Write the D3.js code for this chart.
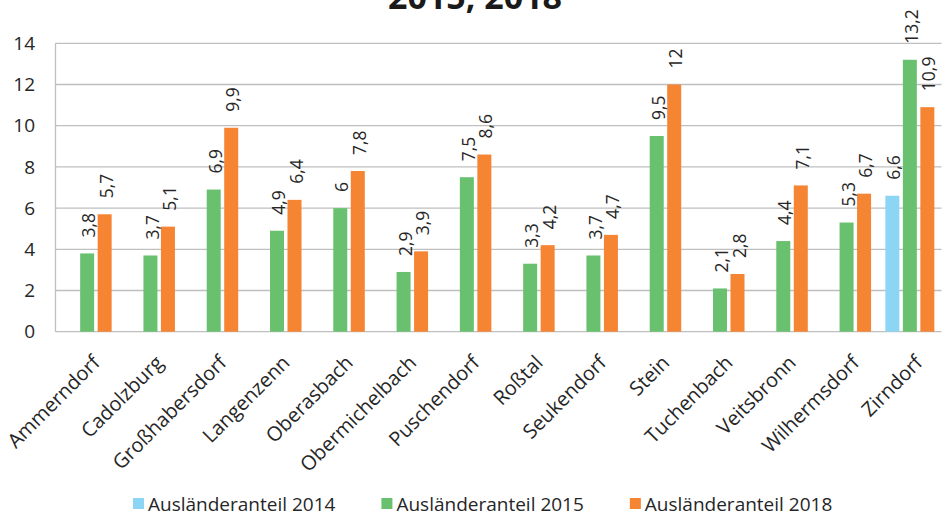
<!DOCTYPE html>
<html>
<head>
<meta charset="utf-8">
<script src="https://cdn.jsdelivr.net/npm/d3@7"></script>
<style>
  body { margin: 0; background: #fff; }
  text { font-family: "Open Sans", sans-serif; fill: #404040; }
</style>
</head>
<body>
<div id="chart"></div>
<script>
var width = 946,
    height = 517,
    margin = {top: 43.3, right: 4.5, bottom: 185.3, left: 55.5};

var categories = ["Ammerndorf", "Cadolzburg", "Großhabersdorf", "Langenzenn", "Oberasbach",
                  "Obermichelbach", "Puschendorf", "Roßtal", "Seukendorf", "Stein",
                  "Tuchenbach", "Veitsbronn", "Wilhermsdorf", "Zirndorf"];
var series = ["Ausländeranteil 2014", "Ausländeranteil 2015", "Ausländeranteil 2018"];
var colors = ["#8dd5f4", "#69c16f", "#f58433"];
var values2014 = [null, null, null, null, null, null, null, null, null, null, null, null, null, 6.6];
var values2015 = [3.8, 3.7, 6.9, 4.9, 6, 2.9, 7.5, 3.3, 3.7, 9.5, 2.1, 4.4, 5.3, 13.2];
var values2018 = [5.7, 5.1, 9.9, 6.4, 7.8, 3.9, 8.6, 4.2, 4.7, 12, 2.8, 7.1, 6.7, 10.9];
var yTicks = [0, 2, 4, 6, 8, 10, 12, 14];

var seriesValues = [values2014, values2015, values2018];

var svg = d3.select("#chart").append("svg")
    .attr("width", width)
    .attr("height", height);

// title, cut off at the top like in the original
svg.append("text")
    .attr("x", 475)
    .attr("y", 9)
    .attr("text-anchor", "middle")
    .style("font-size", "34px")
    .style("font-weight", "bold")
    .style("fill", "#1a1a1a")
    .text("2015, 2018");

var x = d3.scaleBand()
    .domain(categories)
    .range([margin.left, width - margin.right]);

var x1 = d3.scaleBand()
    .domain(series)
    .range([-24.5, 24.5])
    .paddingInner(0.2);

var y = d3.scaleLinear()
    .domain([0, 14])
    .range([height - margin.bottom, margin.top]);

// gridlines
svg.append("g")
    .selectAll("line")
    .data(yTicks)
  .enter().append("line")
    .attr("x1", margin.left)
    .attr("x2", width - margin.right)
    .attr("y1", function(d) { return y(d); })
    .attr("y2", function(d) { return y(d); })
    .attr("stroke", "#bfbfbf")
    .attr("stroke-width", 1.3);

svg.append("line")
    .attr("x1", margin.left)
    .attr("x2", margin.left)
    .attr("y1", y(14))
    .attr("y2", y(0))
    .attr("stroke", "#bfbfbf")
    .attr("stroke-width", 1.3);

// y tick labels
svg.append("g")
    .selectAll("text")
    .data(yTicks)
  .enter().append("text")
    .attr("x", 35)
    .attr("y", function(d) { return y(d); })
    .attr("dy", "0.35em")
    .attr("text-anchor", "end")
    .style("font-size", "19px")
    .style("fill", "#262626")
    .text(function(d) { return d; });

// flatten into bars
var bars = [];
series.forEach(function(s, i) {
  categories.forEach(function(c, j) {
    var v = seriesValues[i][j];
    if (v != null) bars.push({cat: c, series: s, color: colors[i], value: v});
  });
});

function barX(d) { return x(d.cat) + x.bandwidth() / 2 + x1(d.series); }

svg.append("g")
    .selectAll("rect")
    .data(bars)
  .enter().append("rect")
    .attr("x", barX)
    .attr("y", function(d) { return y(d.value); })
    .attr("width", x1.bandwidth())
    .attr("height", function(d) { return y(0) - y(d.value); })
    .attr("fill", function(d) { return d.color; });

// value labels, rotated
svg.append("g")
    .selectAll("text")
    .data(bars)
  .enter().append("text")
    .attr("transform", function(d) {
      return "translate(" + (barX(d) + x1.bandwidth() / 2 + 2) + "," + (y(d.value) - 16) + ") rotate(-90)";
    })
    .attr("dy", "0.35em")
    .style("font-size", "17.5px")
    .style("fill", "#262626")
    .text(function(d) { return String(d.value).replace(".", ","); });

// category labels
svg.append("g")
    .selectAll("text")
    .data(categories)
  .enter().append("text")
    .attr("transform", function(d) {
      return "translate(" + (x(d) + x.bandwidth() / 2 + 14) + ",364) rotate(-45)";
    })
    .attr("text-anchor", "end")
    .style("font-size", "20px")
    .style("fill", "#262626")
    .text(function(d) { return d; });

// legend
var legend = svg.append("g");
var lx = 133;
series.forEach(function(s, i) {
  var item = legend.append("g")
      .attr("transform", "translate(" + lx + ",0)");
  item.append("rect")
      .attr("x", 0)
      .attr("y", 498)
      .attr("width", 11)
      .attr("height", 11)
      .attr("fill", colors[i]);
  var t = item.append("text")
      .attr("x", 15)
      .attr("y", 511)
      .style("font-size", "19px")
      .style("fill", "#262626")
      .text(s);
  lx += 15 + t.node().getComputedTextLength() + 46;
});
</script>
</body>
</html>
